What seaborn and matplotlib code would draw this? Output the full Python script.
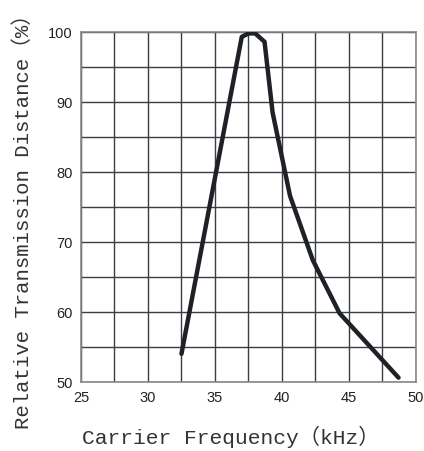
import matplotlib
matplotlib.use("Agg")
import matplotlib.pyplot as plt
import seaborn as sns
import pandas as pd

# curve
freq_khz = [32.5, 37.0, 37.5, 38.0, 38.7, 39.3, 40.6, 42.3, 44.3, 48.7]
rel_dist = [54.0, 99.3, 99.8, 99.8, 98.6, 88.5, 76.6, 67.4, 59.8, 50.6]
x_ticks = [25, 30, 35, 40, 45, 50]
y_ticks = [50, 60, 70, 80, 90, 100]

df = pd.DataFrame({"freq": freq_khz, "dist": rel_dist})

sns.set_style("white")
plt.rcParams['font.family'] = ['Liberation Mono', 'Noto Sans CJK SC', 'DejaVu Sans']

fig = plt.figure(figsize=(4.24, 4.52), dpi=100)
ax = fig.add_axes([0.191, 0.153, 0.790, 0.774])

sns.lineplot(data=df, x="freq", y="dist", ax=ax, color="#1e2227", linewidth=3.2,
             sort=False, zorder=3)

ax.set_xlim(25, 50)
ax.set_ylim(50, 100)
ax.set_xticks([25 + 2.5 * i for i in range(11)])
ax.set_yticks([50 + 5 * i for i in range(11)])
ax.grid(True, color="#3a3d42", linewidth=1.0)
ax.set_xticklabels([str(int(v)) if v in x_ticks else "" for v in ax.get_xticks()])
ax.set_yticklabels([str(int(v)) if v in y_ticks else "" for v in ax.get_yticks()])
ax.tick_params(length=0, labelsize=10.5, colors="#222222", pad=6)
for lab in ax.get_xticklabels() + ax.get_yticklabels():
    lab.set_family("Liberation Sans")
for s in ax.spines.values():
    s.set_color("#888888")
    s.set_linewidth(1.2)

ax.set_xlabel("Carrier Frequency（kHz）", fontsize=15.3, color="#333333")
ax.set_ylabel("Relative Transmission Distance（%）", fontsize=14.9, color="#333333")
ax.xaxis.set_label_coords(0.448, -0.154)
ax.xaxis.label.set_va("center")
ax.yaxis.set_label_coords(-0.172, 0.474)
ax.yaxis.label.set_va("center")

fig.savefig("out.png", dpi=100)
